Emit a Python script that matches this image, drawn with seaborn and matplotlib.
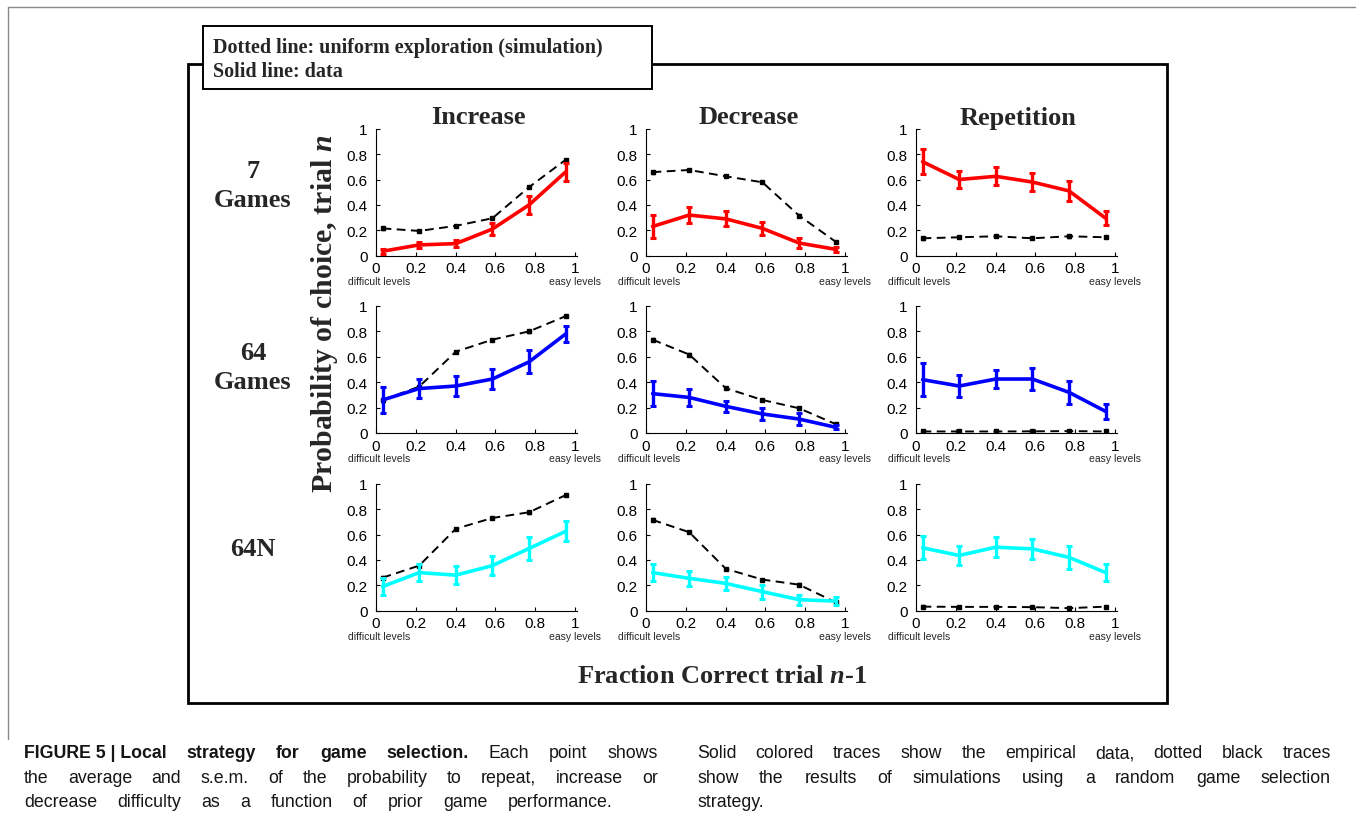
import matplotlib
matplotlib.use("Agg")
import numpy as np
import pandas as pd
import seaborn as sns
import matplotlib.pyplot as plt
from matplotlib.patches import Rectangle
from matplotlib.lines import Line2D

sns.set_style("ticks")
plt.rcParams['font.family'] = ['Liberation Sans', 'DejaVu Sans']
plt.rcParams['mathtext.fontset'] = 'custom'
plt.rcParams['mathtext.rm'] = 'Liberation Serif:bold'
plt.rcParams['mathtext.bf'] = 'Liberation Serif:bold'
plt.rcParams['mathtext.it'] = 'Liberation Serif:italic:bold'

# fraction correct on trial n-1 (bin centres)
x_bins = [0.033, 0.217, 0.401, 0.585, 0.769, 0.953]
x_ticks = [0, 0.2, 0.4, 0.6, 0.8, 1]
tick_labels = ["0", "0.2", "0.4", "0.6", "0.8", "1"]

columns = ["Increase", "Decrease", "Repetition"]
row_labels = ["7\nGames", "64\nGames", "64N"]
row_colors = ["#ff0000", "#0000ff", "#00ffff"]

# solid traces (data) mean and s.e.m., one row per group: 7 Games, 64 Games, 64N
increase_data = [[0.035, 0.085, 0.095, 0.21, 0.40, 0.66],
                 [0.26, 0.35, 0.37, 0.425, 0.56, 0.78],
                 [0.19, 0.30, 0.28, 0.355, 0.49, 0.625]]
increase_sem = [[0.02, 0.025, 0.03, 0.05, 0.07, 0.07],
                [0.10, 0.075, 0.08, 0.08, 0.09, 0.065],
                [0.07, 0.07, 0.07, 0.075, 0.09, 0.08]]
decrease_data = [[0.23, 0.32, 0.29, 0.215, 0.10, 0.05],
                 [0.31, 0.28, 0.21, 0.15, 0.11, 0.045],
                 [0.30, 0.255, 0.215, 0.15, 0.087, 0.075]]
decrease_sem = [[0.09, 0.06, 0.06, 0.05, 0.04, 0.02],
                [0.10, 0.065, 0.045, 0.05, 0.045, 0.015],
                [0.07, 0.06, 0.05, 0.055, 0.04, 0.03]]
repetition_data = [[0.74, 0.60, 0.625, 0.58, 0.51, 0.295],
                   [0.42, 0.37, 0.425, 0.425, 0.32, 0.17],
                   [0.495, 0.435, 0.50, 0.487, 0.42, 0.30]]
repetition_sem = [[0.10, 0.07, 0.07, 0.07, 0.08, 0.055],
                  [0.13, 0.09, 0.07, 0.09, 0.09, 0.06],
                  [0.09, 0.075, 0.08, 0.08, 0.09, 0.07]]

# dashed traces (uniform exploration simulation)
increase_sim = [[0.215, 0.195, 0.235, 0.295, 0.54, 0.755],
                [0.26, 0.365, 0.64, 0.735, 0.80, 0.92],
                [0.26, 0.355, 0.645, 0.73, 0.775, 0.91]]
decrease_sim = [[0.658, 0.675, 0.625, 0.578, 0.316, 0.11],
                [0.735, 0.618, 0.353, 0.26, 0.195, 0.07],
                [0.715, 0.618, 0.33, 0.245, 0.205, 0.066]]
repetition_sim = [[0.137, 0.145, 0.153, 0.137, 0.153, 0.145],
                  [0.012, 0.012, 0.012, 0.013, 0.015, 0.012],
                  [0.032, 0.03, 0.03, 0.028, 0.02, 0.032]]
sim_sem = [0.012, 0.008, 0.008, 0.008, 0.01, 0.008]

panel_data = [increase_data, decrease_data, repetition_data]
panel_sem = [increase_sem, decrease_sem, repetition_sem]
panel_sim = [increase_sim, decrease_sim, repetition_sim]

W, H = 1356, 820
fig = plt.figure(figsize=(W / 100, H / 100), dpi=100)
fig.patch.set_facecolor("white")


def fx(px):
    return px / W


def fy(py):
    return 1 - py / H


serif = "Liberation Serif"

# outer page frame (thin grey)
fig.add_artist(Line2D([fx(8), fx(8)], [fy(8), fy(740)], color="#888888", lw=1,
                      transform=fig.transFigure))
fig.add_artist(Line2D([fx(8), 1], [fy(8), fy(8)], color="#888888", lw=1,
                      transform=fig.transFigure))

# panel box and legend box
fig.add_artist(Rectangle((fx(188), fy(704)), fx(1167 - 188), (704 - 65) / H, fill=False,
                         ec="black", lw=2, transform=fig.transFigure, zorder=1))
fig.add_artist(Rectangle((fx(203), fy(90)), fx(652 - 203), (90 - 27) / H, fc="white",
                         ec="black", lw=1.4, transform=fig.transFigure, zorder=2))
fig.text(fx(213), fy(48), "Dotted line: uniform exploration (simulation)", family=serif,
         weight="bold", fontsize=14.5, va="center", zorder=3)
fig.text(fx(213), fy(72), "Solid line: data", family=serif, weight="bold", fontsize=14.5,
         va="center", zorder=3)

col_left = [376, 646, 916]
row_bottom = [256.7, 434, 611.7]
ax_w, ax_h = 201, 127

for r in range(3):
    for c in range(3):
        ax = fig.add_axes([fx(col_left[c]), fy(row_bottom[r]), fx(ax_w), ax_h / H])
        sim = panel_sim[c][r]
        sns.lineplot(x=x_bins, y=sim, ax=ax, color="black", linewidth=1.4,
                     linestyle=(0, (4.5, 2.8)), errorbar=None, zorder=2)
        ax.errorbar(x_bins, sim, yerr=sim_sem, fmt="s", ms=2.2, color="black",
                    elinewidth=1, capsize=1.5, zorder=2)
        vals = panel_data[c][r]
        sns.lineplot(x=x_bins, y=vals, ax=ax, color=row_colors[r], linewidth=2.6,
                     errorbar=None, zorder=3)
        ax.errorbar(x_bins, vals, yerr=panel_sem[c][r], fmt="none", ecolor=row_colors[r],
                    elinewidth=2.4, capsize=2.2, capthick=2.2, zorder=3)
        ax.set_xlim(0, 1.01)
        ax.set_ylim(0, 1)
        ax.set_xticks(x_ticks)
        ax.set_xticklabels(tick_labels)
        ax.set_yticks(x_ticks)
        ax.set_yticklabels(tick_labels)
        ax.tick_params(direction="in", length=3, width=0.8, labelsize=11, pad=4,
                       colors="black")
        ax.tick_params(axis="y", pad=6)
        sns.despine(ax=ax)
        for s in ["left", "bottom"]:
            ax.spines[s].set_linewidth(0.8)
            ax.spines[s].set_color("black")
        ax.set_facecolor("none")
        ax.text(-0.14, -0.197, "difficult levels", transform=ax.transAxes, fontsize=7.5,
                ha="left", va="center")
        ax.text(1.118, -0.197, "easy levels", transform=ax.transAxes, fontsize=7.5,
                ha="right", va="center")
        if r == 0:
            fig.text(fx(col_left[c] + ax_w / 2 + 2), fy(118), columns[c], family=serif,
                     weight="bold", fontsize=19, ha="center", va="center")

# row labels
fig.text(fx(253), fy(186), row_labels[0], family=serif, weight="bold", fontsize=19,
         ha="center", va="center", linespacing=1.35)
fig.text(fx(253), fy(368), row_labels[1], family=serif, weight="bold", fontsize=19,
         ha="center", va="center", linespacing=1.35)
fig.text(fx(253), fy(549), row_labels[2], family=serif, weight="bold", fontsize=19,
         ha="center", va="center")

fig.text(fx(324), fy(314), "Probability of choice, trial $n$", family=serif, weight="bold",
         fontsize=21.5, rotation=90, ha="center", va="center")
fig.text(fx(722), fy(677), "Fraction Correct trial $n$-$\\mathit{1}$", family=serif,
         weight="bold", fontsize=19, ha="center", va="center")

# caption, justified like the journal layout
cap_font = ['Liberation Sans Narrow', 'Liberation Sans']
renderer = fig.canvas.get_renderer()


def put_line(tokens, x0, x1, y, justify=True):
    texts = []
    for word, bold in tokens:
        t = fig.text(0, fy(y), word, family=cap_font, fontsize=12.8,
                     weight="bold" if bold else "normal", va="center", ha="left",
                     color="#151515")
        texts.append(t)
    widths = [t.get_window_extent(renderer).width for t in texts]
    if justify and len(texts) > 1:
        gap = (x1 - x0 - sum(widths)) / (len(texts) - 1)
    else:
        gap = 4
    x = x0
    for t, w in zip(texts, widths):
        t.set_x(fx(x))
        x += w + gap


line1 = [("FIGURE 5 | Local", True), ("strategy", True), ("for", True), ("game", True),
         ("selection.", True), ("Each", False), ("point", False), ("shows", False)]
put_line(line1, 24, 658, 754)
put_line([(w, False) for w in
          "the average and s.e.m. of the probability to repeat, increase or".split()],
         24, 658, 779)
put_line([(w, False) for w in
          "decrease difficulty as a function of prior game performance.".split()],
         24, 613, 803)
put_line([(w, False) for w in
          "Solid colored traces show the empirical data, dotted black traces".split()],
         697, 1331, 754)
put_line([(w, False) for w in
          "show the results of simulations using a random game selection".split()],
         697, 1331, 779)
put_line([("strategy.", False)], 697, 1331, 803, justify=False)

fig.savefig("out.png", dpi=100)
